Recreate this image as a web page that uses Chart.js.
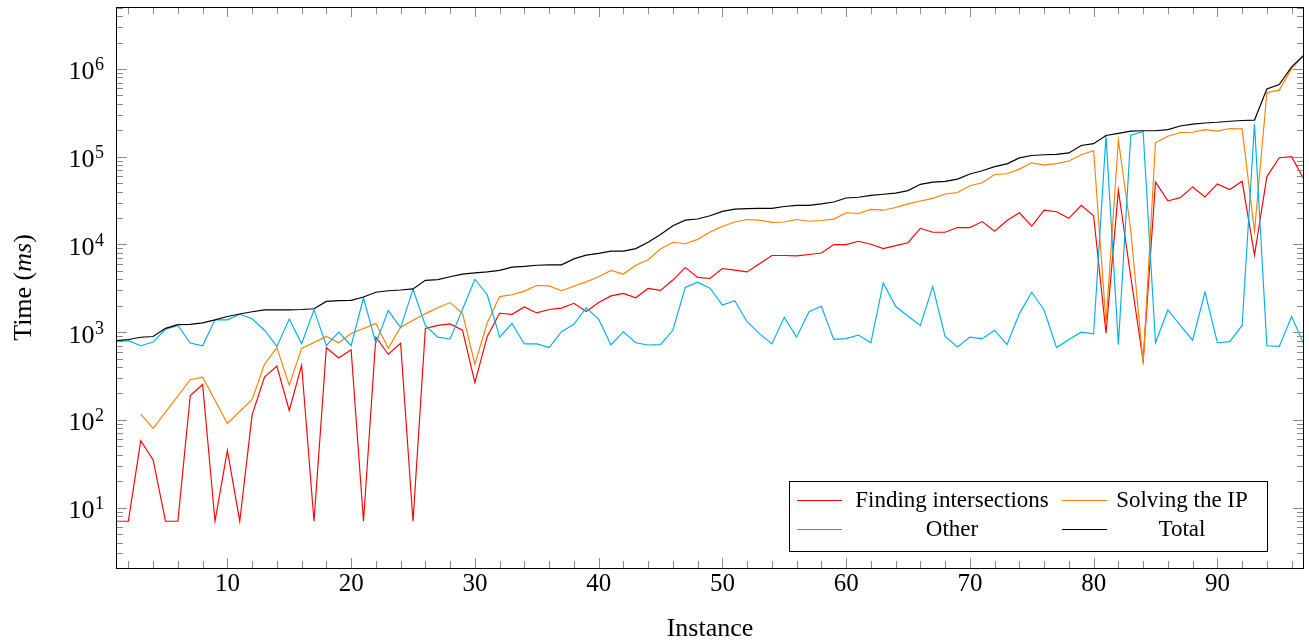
<!DOCTYPE html>
<html><head><meta charset="utf-8">
<script src="https://cdn.jsdelivr.net/npm/chart.js@4/dist/chart.umd.min.js"></script>
<style>html,body{margin:0;padding:0;background:#fff;overflow:hidden}#wrap{width:1309px;height:643px}</style>
</head><body><div id="wrap"><canvas id="c" width="1309" height="643"></canvas></div>
<script>
// Instance numbers (x categories)
const instances = Array.from({length: 97}, (_, i) => i + 1);

// Series values in ms (null = not plottable on log axis; line connects neighbours)
const findingIntersections = [
  7, 7, 58, 35, 7, 7, 189, 253, 7, 45,
  7, 114, 307, 411, 128, 419, 7, 665, 508, 628,
  7, 875, 560, 748, 7, 1104, 1193, 1242, 1052, 266,
  893, 1642, 1596, 1936, 1656, 1812, 1879, 2133, 1722, 2173,
  2588, 2768, 2466, 3147, 2993, 3925, 5466, 4207, 4084, 5309,
  5097, 4857, 6010, 7464, 7464, 7390, 7676, 7970, 9950, 9950,
  10870, 10050, 8970, 9690, 10450, 15250, 13740, 13740, 15560, 15560,
  18200, 14120, 18720, 22940, 16200, 24550, 23600, 19820, 27860, 21180,
  975, 41600, 4300, 470, 51290, 31290, 34110, 45190, 34810, 48850,
  42230, 52350, 7536, 59330, 97300, 100000, 54950
];
const solvingIP = [
  null, null, 116, 80, null, null, 287, 307, null, 91,
  null, 171, 431, 665, 248, 653, null, 893, 757, 965,
  null, 1253, 653, 1138, null, 1626, 1900, 2173, 1642, 431,
  1277, 2541, 2667, 2937, 3399, 3365, 2963, 3332, 3743, 4285,
  5056, 4589, 5794, 6699, 8876, 10570, 10170, 11400, 13840, 16020,
  17990, 19230, 18890, 17820, 17990, 19230, 18370, 18720, 19430, 22940,
  22520, 25060, 24540, 26300, 28970, 31290, 33490, 37600, 39090, 46560,
  50500, 62600, 63800, 72100, 85000, 80200, 83400, 89200, 105200, 117000,
  1265, 154900, 14600, 440, 144800, 170600, 188200, 190000, 203200, 195500,
  209300, 207400, 14120, 537000, 573000, 1007000, 1413000
];
const other = [
  793, 800, 700, 771, 1083, 1193, 750, 700, 1380, 1380,
  1596, 1421, 1052, 687, 1409, 736, 1795, 700, 1000, 700,
  2466, 750, 1762, 1127, 3083, 1193, 877, 836, 1824, 4006,
  2667, 877, 1253, 734, 734, 667, 1011, 1227, 1896, 1406,
  714, 1011, 757, 714, 721, 1050, 3236, 3707, 3170, 2032,
  2284, 1315, 963, 734, 1475, 877, 1706, 1972, 826, 843,
  927, 757, 3637, 1972, 1520, 1193, 3300, 893, 679, 877,
  843, 1052, 721, 1626, 2851, 1790, 667, 826, 1000, 955,
  172600, 721, 175800, 193600, 757, 1790, 1193, 810, 2851, 757,
  779, 1193, 235000, 700, 687, 1507, 721
];
const total = [
  800, 824, 875, 891, 1104, 1216, 1227, 1277, 1380, 1507,
  1611, 1708, 1795, 1795, 1795, 1812, 1845, 2239, 2284, 2306,
  2512, 2851, 2963, 3020, 3110, 3896, 3973, 4285, 4589, 4732,
  4870, 5056, 5508, 5614, 5794, 5850, 5850, 6840, 7536, 7907,
  8380, 8380, 8960, 10570, 12950, 16340, 18890, 19450, 21180, 23800,
  25280, 25530, 25760, 25760, 27040, 27860, 27860, 28970, 30400, 33830,
  34500, 36220, 37300, 38370, 41050, 48410, 51290, 52350, 55480, 63530,
  69000, 77090, 82800, 96800, 103000, 105200, 106200, 110400, 134000, 140600,
  174100, 184500, 195500, 197400, 197400, 203200, 223900, 235000, 241700, 246500,
  253600, 258700, 261200, 590000, 663700, 1057000, 1442000
];

// Tick labels
const xTickLabels = [10, 20, 30, 40, 50, 60, 70, 80, 90];
const yTickExponents = [1, 2, 3, 4, 5, 6];
const seriesNames = ['Finding intersections', 'Solving the IP', 'Other', 'Total'];
const seriesColors = ['#ff0000', '#ff8000', '#00aeef', '#000000'];

const FONT = '"Liberation Serif", "Times New Roman", serif';

function mk(i, vals) {
  return {
    label: seriesNames[i],
    data: instances.map((x, k) => ({x: x, y: vals[k]})),
    borderColor: seriesColors[i],
    backgroundColor: seriesColors[i],
    borderWidth: 1.15,
    pointRadius: 0,
    tension: 0,
    spanGaps: true,
    fill: false,
    order: 4 - i
  };
}

const decor = {
  id: 'decor',
  afterDatasetsDraw(ch) {
    const ctx = ch.ctx, a = ch.chartArea, xs = ch.scales.x, ys = ch.scales.y;
    ctx.save();
    const line = (x1, y1, x2, y2) => { ctx.beginPath(); ctx.moveTo(x1, y1); ctx.lineTo(x2, y2); ctx.stroke(); };
    // ticks (inward)
    ctx.strokeStyle = '#8a8a8a'; ctx.lineWidth = 1;
    for (let k = 0; k <= 7; k++) {
      for (let m = 1; m <= 9; m++) {
        const v = m * Math.pow(10, k);
        if (v < ys.min || v > ys.max) continue;
        const py = Math.round(ys.getPixelForValue(v)) + 0.5;
        const L = m === 1 ? 11 : 7;
        line(a.left, py, a.left + L, py);
        line(a.right, py, a.right - L, py);
      }
    }
    for (let v = 2; v < 97; v += 2) {
      const px = Math.round(xs.getPixelForValue(v)) + 0.5;
      const L = v % 10 === 0 ? 10 : 7;
      line(px, a.bottom, px, a.bottom - L);
      line(px, a.top, px, a.top + L);
    }
    // frame
    ctx.strokeStyle = '#000'; ctx.lineWidth = 1;
    ctx.strokeRect(Math.round(a.left) + 0.5, Math.round(a.top) + 0.5,
                   Math.round(a.right - a.left) - 1, Math.round(a.bottom - a.top));
    ctx.fillStyle = '#000';
    // x tick labels
    ctx.font = '25px ' + FONT; ctx.textAlign = 'center'; ctx.textBaseline = 'alphabetic';
    xTickLabels.forEach(v => ctx.fillText(String(v), xs.getPixelForValue(v), 591));
    // y tick labels 10^n
    yTickExponents.forEach(e => {
      const py = ys.getPixelForValue(Math.pow(10, e));
      ctx.font = '18px ' + FONT; ctx.textAlign = 'right';
      const sw = ctx.measureText(String(e)).width;
      ctx.fillText(String(e), 104, py + 1.5);
      ctx.font = '26px ' + FONT;
      ctx.fillText('10', 104 - sw - 0.5, py + 10.5);
    });
    // x title
    ctx.font = '26px ' + FONT; ctx.textAlign = 'center';
    ctx.fillText('Instance', (a.left + a.right) / 2, 636);
    // y title: Time (ms)
    ctx.save();
    ctx.translate(30.5, (a.top + a.bottom) / 2);
    ctx.rotate(-Math.PI / 2);
    const parts = [['Time (', '26px '], ['ms', 'italic 26px '], [')', '26px ']];
    let tw = 0;
    parts.forEach(p => { ctx.font = p[1] + FONT; tw += ctx.measureText(p[0]).width; });
    let cx = -tw / 2;
    ctx.textAlign = 'left';
    parts.forEach(p => { ctx.font = p[1] + FONT; ctx.fillText(p[0], cx, 0); cx += ctx.measureText(p[0]).width; });
    ctx.restore();
    // legend
    const bx = 789.5, by = 481.5, bw = 478, bh = 70;
    ctx.fillStyle = '#fff'; ctx.fillRect(bx, by, bw, bh);
    ctx.strokeStyle = '#000'; ctx.lineWidth = 1; ctx.strokeRect(bx, by, bw, bh);
    const rows = [500, 529];
    const cols = [{l0: 797, l1: 842, tc: 952}, {l0: 1062, l1: 1107, tc: 1182}];
    ctx.font = '23px ' + FONT; ctx.textAlign = 'center'; ctx.textBaseline = 'middle';
    seriesNames.forEach((name, i) => {
      const r = Math.floor(i / 2), c = i % 2;
      ctx.strokeStyle = seriesColors[i]; ctx.lineWidth = 1.2;
      line(cols[c].l0, rows[r] + 0.5, cols[c].l1, rows[r] + 0.5);
      ctx.fillStyle = '#000';
      ctx.fillText(name, cols[c].tc, rows[r] + 1);
    });
    ctx.restore();
  }
};

new Chart(document.getElementById('c').getContext('2d'), {
  type: 'line',
  data: { datasets: [mk(0, findingIntersections), mk(1, solvingIP), mk(2, other), mk(3, total)] },
  options: {
    responsive: false,
    animation: false,
    events: [],
    layout: { padding: { left: 116, right: 5, top: 7, bottom: 75 } },
    scales: {
      x: { type: 'linear', min: 1, max: 97, display: false },
      y: { type: 'logarithmic', min: 2.05, max: 5.08e6, display: false }
    },
    plugins: { legend: { display: false }, tooltip: { enabled: false } }
  },
  plugins: [decor]
});
</script>
</body></html>
